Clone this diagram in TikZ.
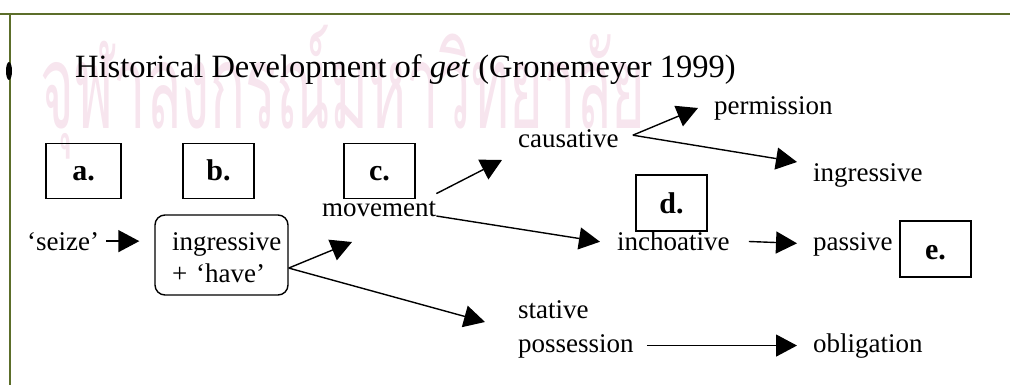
\documentclass[tikz,border=0pt]{standalone}
\usepackage{fontspec}
\setmainfont{Liberation Serif}
\newfontfamily\thaifont[Script=Thai]{Loma}
\usetikzlibrary{arrows.meta,calc}
\definecolor{olivebar}{RGB}{92,110,42}
\definecolor{wmark}{RGB}{247,229,238}
\tikzset{
  lbl/.style={draw, line width=1.4pt, minimum width=71pt, minimum height=55pt, inner sep=0pt,
    font=\fontsize{30}{30}\selectfont\bfseries, text height=20pt, text depth=0pt},
  txt/.style={inner sep=0pt, anchor=base west, font=\fontsize{27}{34}\selectfont},
  arr/.style={line width=1.4pt, -{Triangle[length=21pt,width=22pt]}},
}
\begin{document}
\begin{tikzpicture}[x=1pt,y=-1pt]
\useasboundingbox (0,0) rectangle (1010,385);
% watermark
\node[anchor=north west, inner sep=0pt] (wm) at (40,25)
  {\color{wmark}\resizebox*{605pt}{134pt}{\thaifont\color{wmark}จุฬาลงกรณ์มหาวิทยาลัย}};
% frame
\draw[olivebar, line width=2pt] (0,14) -- (1010,14);
\draw[olivebar, line width=2pt] (10,13) -- (10,385);
\fill (9,71) ellipse [x radius=3pt, y radius=9pt];
% title
\node[txt, font=\fontsize{32.5}{32.5}\selectfont] (title) at (75,78)
  {Historical Development of \textit{get} (Gronemeyer 1999)};
% nodes
\node[txt] (seize) at (27,250) {‘seize’};
\node[draw, line width=1.4pt, rounded corners=10pt, minimum width=133pt, minimum height=80pt,
  inner sep=0pt, text width=99pt, align=left, font=\fontsize{27}{32}\selectfont] (ih)
  at (221.5,255) {\rule{0pt}{24pt}ingressive\\+ ‘have’};
\node[txt] (mv) at (322,216) {movement};
\node[txt] (cau) at (518,148) {causative};
\node[txt] (perm) at (714,115) {permission};
\node[txt] (ing) at (813,182) {ingressive};
\node[txt] (inc) at (617,250) {inchoative};
\node[txt] (pas) at (813,250) {passive};
\node[txt, align=left] (sp) at (518,352) {stative\\possession};
\node[txt] (obl) at (813,352) {obligation};
% labels
\node[lbl, minimum width=75pt] (la) at (83.5,171) {a.};
\node[lbl] (lb) at (218.5,171) {b.};
\node[lbl] (lc) at (379.5,171) {c.};
\node[lbl, minimum height=56pt] (ld) at (671.5,203) {d.};
\node[lbl, minimum height=56pt] (le) at (935.5,249) {e.};
% connectors
\coordinate (tmv) at (352,242);
\coordinate (tsp) at (485,322);
\draw[arr, shorten <=7pt, shorten >=15pt] (seize.east) -- (seize.east -| ih.west);
\draw[arr] (ih.-11) -- (tmv);
\draw[arr] (ih.-11) -- (tsp);
\draw[arr] (mv.base east) -- ([xshift=-17pt,yshift=-1pt]inc.west);
\draw[arr] ([yshift=7pt]mv.north east) -- ([xshift=-16pt,yshift=-12pt]cau.base west);
\draw[arr] ([xshift=14pt,yshift=4pt]cau.east) -- ([xshift=-16pt,yshift=7pt]perm.base west);
\draw[arr] ([xshift=14pt,yshift=4pt]cau.east) -- ([xshift=-16pt,yshift=20pt]ing.base west);
\draw[arr, shorten <=19pt, shorten >=16pt] (inc.east) -- (pas.west);
\draw[arr, shorten <=13pt, shorten >=16pt] (obl.west -| sp.east) -- (obl.west);
\end{tikzpicture}
\end{document}
